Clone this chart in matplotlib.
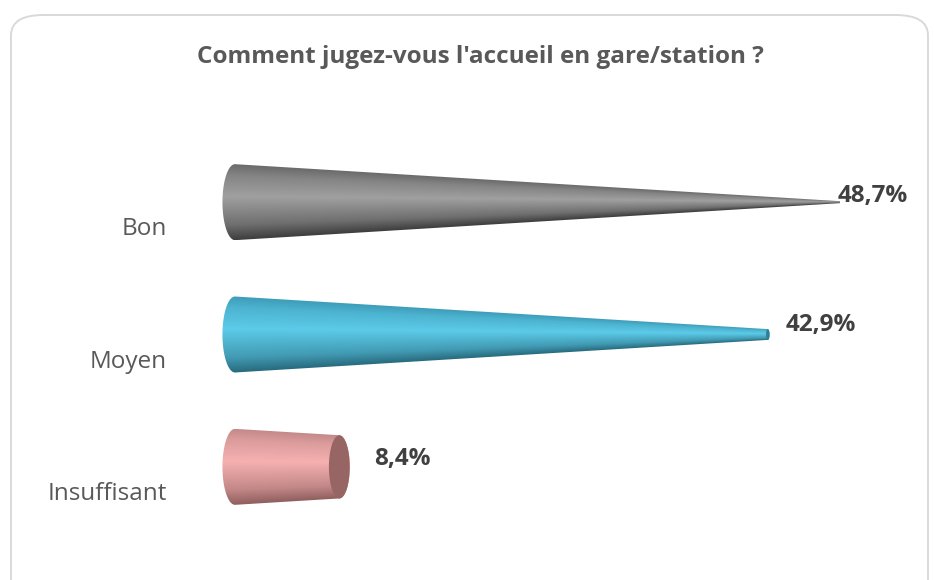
import matplotlib
matplotlib.use("Agg")
import matplotlib.pyplot as plt
import numpy as np
from matplotlib.path import Path
from matplotlib.patches import PathPatch, FancyBboxPatch, Ellipse
from matplotlib.colors import to_rgb

plt.rcParams['font.family'] = ['Open Sans', 'DejaVu Sans']

title = "Comment jugez-vous l'accueil en gare/station ?"
categories = ['Insuffisant', 'Moyen', 'Bon']
values = [8.4, 42.9, 48.7]
value_labels = ['8,4%', '42,9%', '48,7%']

# shading: (top edge, highlight, bottom edge, end cap)
palettes = [
    ('#c48a8a', '#f6b0b0', '#8f5e5e', '#986565'),
    ('#3d9cb8', '#5ccbe9', '#27697c', '#2f7f95'),
    ('#6a6a6a', '#a0a0a0', '#3e3e3e', '#555555'),
]
label_dx = [24, 16, -3]   # px offset of value labels
label_dy = [8, 10, 6]

W, H, DPI = 934, 580, 100
fig = plt.figure(figsize=(W / DPI, H / DPI), dpi=DPI)

# rounded frame
fig.patches.append(FancyBboxPatch((11 / W, -0.1), 917 / W, (565 / H) + 0.1,
                                  boxstyle="round,pad=0,rounding_size=0.035",
                                  transform=fig.transFigure, fill=False,
                                  ec='#d9d9d9', lw=1.4))

xs = 621 / 50      # px per x unit
ys = 397 / 3       # px per y unit
x0 = -2
ax = fig.add_axes([(235 + x0 * xs) / W, 47 / H, (621 - x0 * xs) / W, 397 / H])
ax.axis('off')

r0 = 38 / ys       # base radius in y units
ecc = 0.33         # ellipse horizontal ratio


def radius(x):
    return r0 * (1 - np.clip(x, 0, None) / 50)


for i, (cat, v) in enumerate(zip(categories, values)):
    yc = i
    r1 = radius(v)
    a0 = ecc * r0 * ys / xs
    a1 = ecc * r1 * ys / xs
    th = np.linspace(np.pi / 2, 3 * np.pi / 2, 60)
    left = np.column_stack([a0 * np.cos(th), yc + r0 * np.sin(th)])
    th2 = np.linspace(-np.pi / 2, np.pi / 2, 60)
    right = np.column_stack([v + a1 * np.cos(th2), yc + r1 * np.sin(th2)])
    verts = np.vstack([left, right, left[:1]])
    patch = PathPatch(Path(verts), fc='none', ec='none')
    ax.add_patch(patch)

    top, hi, bot, cap = [np.array(to_rgb(c)) for c in palettes[i]]
    gx = np.linspace(-a0, v + a1, 400)
    gy = np.linspace(yc - r0, yc + r0, 200)
    X, Y = np.meshgrid(gx, gy)
    t = np.clip((Y - yc) / np.maximum(radius(X), 1e-4), -1, 1)
    img = np.zeros(X.shape + (3,))
    for k in range(3):
        img[..., k] = np.interp(t, [-1, -0.6, 0.15, 0.7, 1],
                                [bot[k], (bot[k] + hi[k]) / 2, hi[k],
                                 (hi[k] + top[k]) / 2, top[k]])
    im = ax.imshow(img, extent=(-a0, v + a1, yc - r0, yc + r0),
                   origin='lower', aspect='auto', interpolation='bilinear')
    im.set_clip_path(patch)
    if r1 > 0.01:
        ax.add_patch(Ellipse((v, yc), 2 * a1, 2 * r1, fc=cap, ec='none'))

    ax.annotate(cat, xy=(0, yc), xytext=(-68 * 0.72, -27 * 0.72),
                textcoords='offset points', ha='right', va='center',
                fontsize=17.5, color='#595959')
    ax.annotate(value_labels[i], xy=(v + a1, yc),
                xytext=(label_dx[i] * 0.72, label_dy[i] * 0.72),
                textcoords='offset points', ha='left', va='center',
                fontsize=17.5, fontweight='bold', color='#404040')

ax.set_xlim(x0, 50)
ax.set_ylim(-0.5, 2.5)

fig.text(480 / W, 1 - 57 / H, title, ha='center', va='center',
         fontsize=17.5, fontweight='bold', color='#595959')

fig.savefig('out.png', dpi=DPI)
